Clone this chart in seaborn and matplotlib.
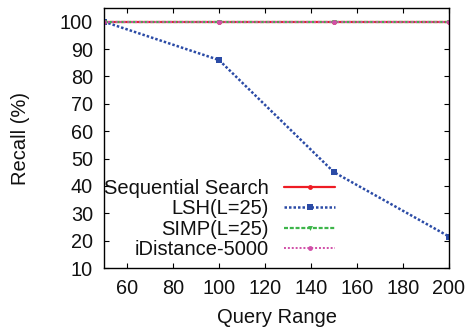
import matplotlib
matplotlib.use("Agg")
import matplotlib.pyplot as plt
import seaborn as sns
import pandas as pd

query_range = [50, 100, 150, 200]
seq = [100, 100, 100, 100]
lsh = [100, 86, 45, 21.5]
simp = [100, 100, 100, 100]
idist = [100, 100, 100, 100]
labels = ["Sequential Search", "LSH(L=25)", "SIMP(L=25)", "iDistance-5000"]
xticks = [60, 80, 100, 120, 140, 160, 180, 200]
yticks = [10, 20, 30, 40, 50, 60, 70, 80, 90, 100]

sns.set_theme(style="ticks")
plt.rcParams['font.family'] = ['Liberation Sans', 'DejaVu Sans']

fig, ax = plt.subplots(figsize=(4.7, 3.34), dpi=100)

styles = [
    dict(color="#ee1c24", linestyle="-", marker="o", markersize=3.5, linewidth=1.6),
    dict(color="#2b4ba6", linestyle=(0, (1, 0.8)), marker="s", markersize=4.5, linewidth=1.8),
    dict(color="#3db54a", linestyle=(0, (1.8, 0.8)), marker="v", markersize=3.5, linewidth=1.6),
    dict(color="#d14fa8", linestyle=(0, (1, 1)), marker="o", markersize=3.5, linewidth=1.4),
]
for vals, lab, st in zip([seq, lsh, simp, idist], labels, styles):
    df = pd.DataFrame({"x": query_range, "y": vals})
    sns.lineplot(data=df, x="x", y="y", ax=ax, label=lab,
                 markeredgewidth=0, **st)

ax.set_xlim(50, 200)
ax.set_ylim(10, 105)
ax.set_xticks(xticks)
ax.set_yticks(yticks)
ax.tick_params(direction="in", top=True, right=True, labelsize=14.3,
               length=3.6, width=0.8, color="black", labelcolor="#111111")
ax.tick_params(axis="x", pad=8)
ax.tick_params(axis="y", pad=8)
ax.set_xlabel("Query Range", fontsize=14.5, labelpad=7, color="#111111")
ax.set_ylabel("Recall (%)", fontsize=14.5, color="#111111")
ax.yaxis.set_label_coords(-0.215, 0.5)
for s in ax.spines.values():
    s.set_linewidth(1.0)
    s.set_color("black")

leg = ax.legend(loc="upper left", bbox_to_anchor=(0.0, 0.343), frameon=False,
                markerfirst=False, fontsize=14.5, handlelength=2.55,
                labelspacing=0.075, borderpad=0.0, borderaxespad=0.0,
                handletextpad=0.75)
for t in leg.get_texts():
    t.set_ha("right")
    t.set_color("#111111")
for vp in leg._legend_handle_box.get_children():
    vp.align = "right"

fig.subplots_adjust(left=0.2213, right=0.9553, top=0.976, bottom=0.1976)
fig.savefig("out.png", dpi=100)
